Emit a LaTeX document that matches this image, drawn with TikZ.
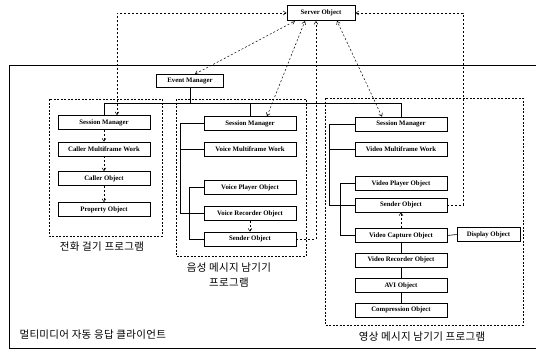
\documentclass[tikz,border=0pt]{standalone}
\usepackage{fontspec}
\setmainfont{Liberation Serif}
\newfontfamily\krfont[LetterSpace=3]{Noto Sans CJK KR}
\usetikzlibrary{arrows.meta,shadows}
\tikzset{
  objbox/.style={
    rectangle, draw, line width=0.6pt, fill=white, inner sep=0pt,
    minimum width=92pt, minimum height=14pt, font=\fontsize{6.8}{7}\selectfont\bfseries,
    drop shadow={shadow xshift=0.7pt, shadow yshift=-0.7pt, opacity=1, fill=black}
  },
  mainbox/.style={objbox, minimum width=68pt, minimum height=15pt, line width=0.9pt},
  grouparea/.style={draw, dash pattern=on 2pt off 1.5pt, line width=0.7pt},
  msglink/.style={dash pattern=on 2pt off 2pt, line width=0.5pt, -{Straight Barb[length=3pt,width=4pt]}},
  msgboth/.style={msglink, {Straight Barb[length=3pt,width=4pt]}-{Straight Barb[length=3pt,width=4pt]}},
  treeline/.style={line width=0.6pt},
  grouplabel/.style={font=\krfont\fontsize{10.5}{15}\selectfont, align=center},
}
\begin{document}
\begin{tikzpicture}[x=1pt,y=-1pt]
  \useasboundingbox (0,0) rectangle (536,351);
  % client frame and program groups
  \draw[line width=0.8pt] (536,65) -- (9,65) -- (9,348) -- (536,348);
  \draw[grouparea] (49,99) rectangle (162,236);
  \draw[grouparea] (176,99) rectangle (306,256);
  \draw[grouparea] (325,98) rectangle (523,325);

  \node[mainbox] (srv) at (321,13) {Server Object};
  \node[mainbox, minimum width=67pt, minimum height=13pt] (evm) at (190,81) {Event Manager};

  % phone call program
  \node[objbox] (sm1) at (104,122.5) {Session Manager};
  \node[objbox] (cmw) at (104,149) {Caller Multiframe Work};
  \node[objbox] (clo) at (104,178.5) {Caller Object};
  \node[objbox] (pro) at (104,209.5) {Property Object};

  % voice message program
  \node[objbox] (sm2) at (250,123.5) {Session Manager};
  \node[objbox] (vmw) at (250,149) {Voice Multiframe Work};
  \node[objbox] (vpo) at (250,187.5) {Voice Player Object};
  \node[objbox] (vro) at (250,213.5) {Voice Recorder Object};
  \node[objbox] (snd2) at (250,239) {Sender Object};

  % video message program
  \node[objbox] (sm3) at (401,124) {Session Manager};
  \node[objbox] (dmw) at (401,149.5) {Video Multiframe Work};
  \node[objbox] (dpo) at (401,183.5) {Video Player Object};
  \node[objbox] (snd3) at (401,205) {Sender Object};
  \node[objbox] (vco) at (401,235.5) {Video Capture Object};
  \node[objbox, minimum width=63pt] (dsp) at (488.5,234.5) {Display Object};
  \node[objbox] (vre) at (401,260) {Video Recorder Object};
  \node[objbox] (avi) at (401,285.5) {AVI Object};
  \node[objbox] (cmp) at (401,310) {Compression Object};

  % solid structure lines
  \coordinate (bus) at (190,103);
  \draw[treeline] (evm.south) -- (bus);
  \draw[treeline] (sm1.north) -- (sm1.north |- bus) -- (sm3.north |- bus) -- (sm3.north);
  \draw[treeline] (sm2.north) -- (sm2.north |- bus);
  \draw[treeline] (sm2.west) -- ++(-23,0) |- (vro.west);
  \draw[treeline] (vmw.west) -- ++(-23,0);
  \draw[treeline] (vpo.west) -- ++(-14,0) |- (snd2.west);
  \draw[treeline] (sm3.west) -- ++(-25,0) |- (snd3.west);
  \draw[treeline] (dmw.west) -- ++(-25,0);
  \draw[treeline] (dpo.west) -- ++(-14,0) |- (vco.west);
  \draw[treeline] (vco.east) -- (dsp.west);
  \draw[treeline] (vco) -- (vre);
  \draw[treeline] (vre) -- (avi);
  \draw[treeline] (avi) -- (cmp);

  % messages
  \draw[msglink] (sm1.south) -- (cmw.north);
  \draw[msglink] (cmw.south) -- (clo.north);
  \draw[msglink] (clo.south) -- (pro.north);
  \draw[msglink] (vro.south) -- (snd2.north);
  \draw[msglink] (vco.north) -- (snd3.south);

  \draw[msgboth] (srv.west) -| ([xshift=13pt]sm1.north);
  \draw[msgboth] ([xshift=5pt]evm.north) -- ([xshift=-26pt]srv.south);
  \draw[msgboth] ([xshift=17pt]sm2.north) -- ([xshift=-16pt]srv.south);
  \draw[msglink] (snd2.east) -| ([xshift=-5pt]srv.south);
  \draw[msgboth] ([xshift=-19pt]sm3.north) -- ([xshift=16pt]srv.south);
  \draw[msglink] (snd3.east) -- ++(16,0) |- (srv.east);

  % labels
  \node[grouplabel] (lbl1) at (102,247) {전화 걸기 프로그램};
  \node[grouplabel] (lbl2) at (229,275) {음성 메시지 남기기\\프로그램};
  \node[grouplabel] (lbl3) at (422,337) {영상 메시지 남기기 프로그램};
  \node[grouplabel, anchor=west] (lbl4) at (16,335) {멀티미디어 자동 응답 클라이언트};
\end{tikzpicture}
\end{document}
